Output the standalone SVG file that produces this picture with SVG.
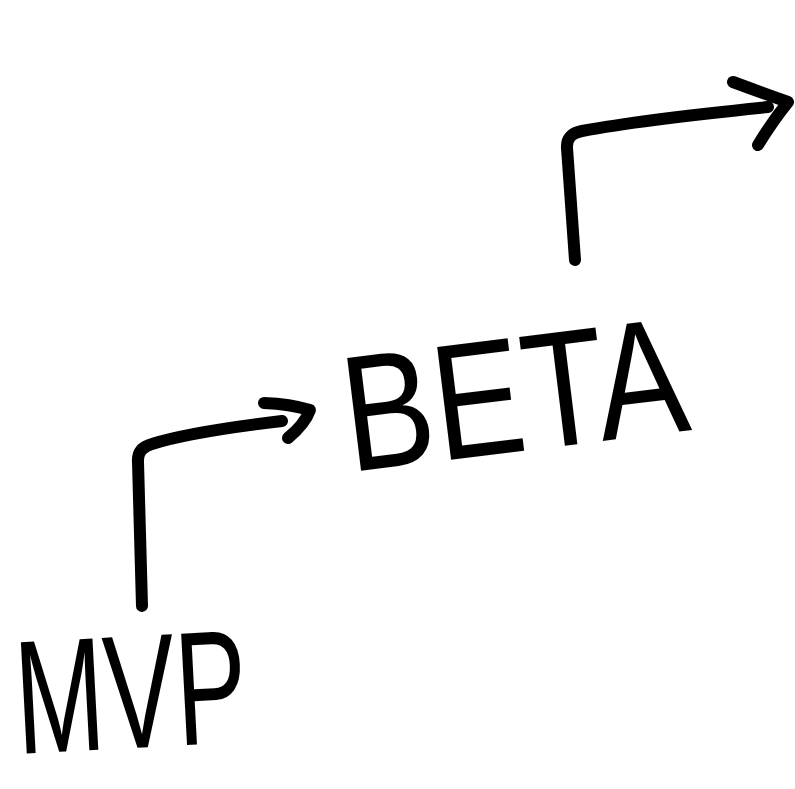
<svg xmlns="http://www.w3.org/2000/svg" width="795" height="789" viewBox="0 0 795 789">
<style>
.stroke{fill:none;stroke:#000;stroke-width:12;stroke-linecap:round;stroke-linejoin:round}
.hand{font-family:"Liberation Sans","DejaVu Sans",sans-serif;fill:#000}
</style>
<rect width="795" height="789" fill="#fff"/>
<g id="connectors">
<g id="arrow-mvp-beta">
<path class="stroke" d="M142,606 L138,462 Q137,448 152,444 Q190,432 282,421"/>
<path class="stroke" d="M264,403 Q290,404 310,410 Q305,424 288,438"/>
</g>
<g id="arrow-beta-next">
<path class="stroke" d="M575,260 L567,148 Q566,134 582,131 Q640,120 768,107"/>
<path class="stroke" d="M733,82 Q760,92 788,102 Q772,122 758,145"/>
</g>
</g>
<g id="mvp">
<text class="hand" x="18" y="754" font-size="162" textLength="232" lengthAdjust="spacingAndGlyphs" transform="rotate(-3 18 754)">MVP</text>
</g>
<g id="beta">
<text class="hand" x="350" y="472" font-size="165" textLength="345" lengthAdjust="spacingAndGlyphs" transform="rotate(-7 350 472)">BETA</text>
</g>
</svg>
